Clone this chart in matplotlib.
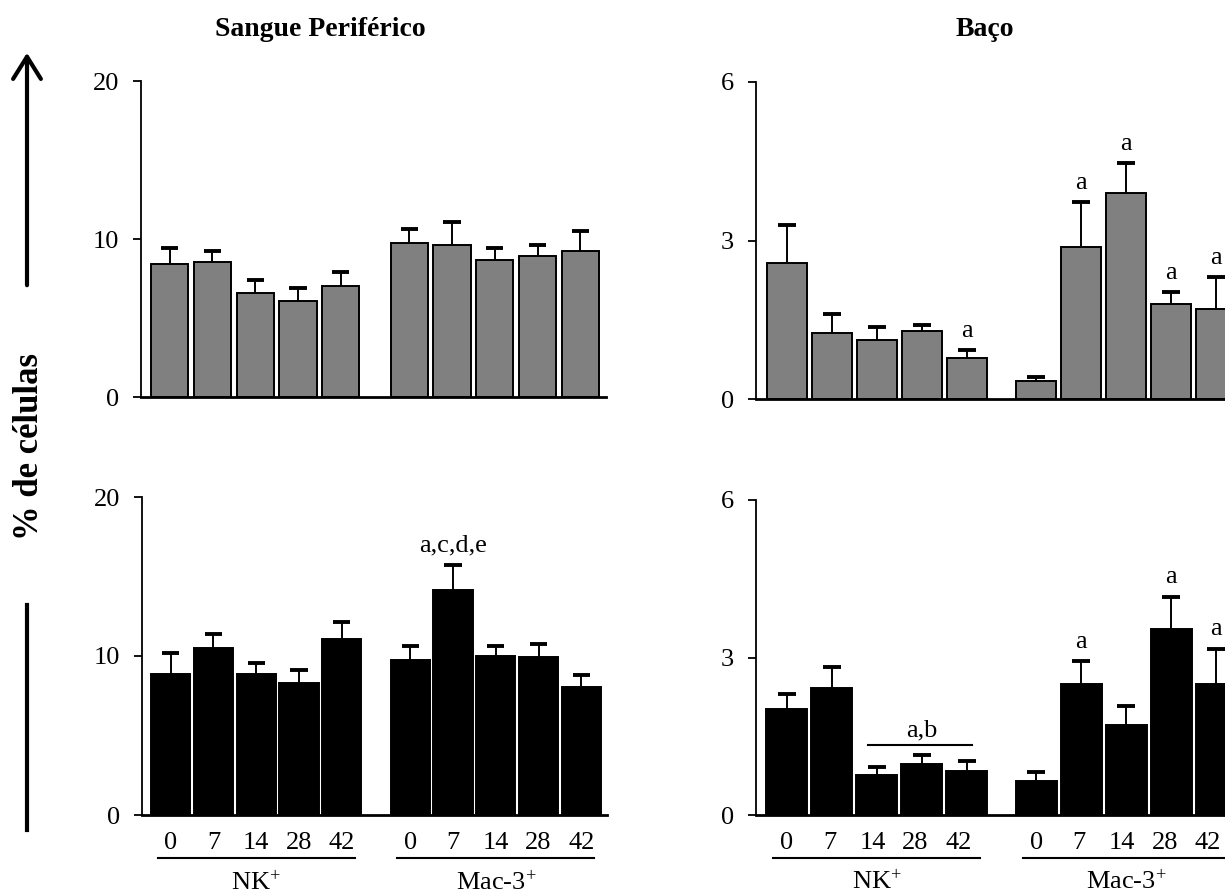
import numpy as np
import matplotlib.pyplot as plt
from matplotlib.patches import FancyArrowPatch
from matplotlib.transforms import ScaledTranslation

plt.rcParams['font.family'] = ['Liberation Serif', 'DejaVu Serif']
plt.rcParams['mathtext.default'] = 'regular'

days = ['0', '7', '14', '28', '42']
groups = ['NK$^{+}$', 'Mac-3$^{+}$']

# Sangue periférico, linha de cima (cinza)
sp_top_nk = [8.44, 8.54, 6.60, 6.08, 7.00]
sp_top_nk_err = [1.01, 0.70, 0.78, 0.82, 0.89]
sp_top_mac = [9.73, 9.60, 8.69, 8.94, 9.24]
sp_top_mac_err = [0.90, 1.48, 0.76, 0.66, 1.29]

# Baço, linha de cima (cinza)
bc_top_nk = [2.57, 1.24, 1.12, 1.28, 0.77]
bc_top_nk_err = [0.73, 0.36, 0.24, 0.13, 0.15]
bc_top_mac = [0.35, 2.88, 3.90, 1.79, 1.71]
bc_top_mac_err = [0.07, 0.85, 0.57, 0.23, 0.59]
bc_top_nk_sig = ['', '', '', '', 'a']
bc_top_mac_sig = ['', 'a', 'a', 'a', 'a']

# Sangue periférico, linha de baixo (preto)
sp_bot_nk = [8.84, 10.53, 8.84, 8.33, 11.04]
sp_bot_nk_err = [1.38, 0.84, 0.75, 0.82, 1.09]
sp_bot_mac = [9.74, 14.12, 10.03, 9.91, 8.06]
sp_bot_mac_err = [0.88, 1.63, 0.59, 0.85, 0.74]
sp_bot_mac_sig = ['', 'a,c,d,e', '', '', '']

# Baço, linha de baixo (preto)
bc_bot_nk = [2.01, 2.41, 0.76, 0.97, 0.83]
bc_bot_nk_err = [0.29, 0.41, 0.15, 0.17, 0.19]
bc_bot_mac = [0.64, 2.49, 1.71, 3.54, 2.49]
bc_bot_mac_err = [0.18, 0.44, 0.36, 0.62, 0.68]
bc_bot_mac_sig = ['', 'a', '', 'a', 'a']

W, H = 1225, 893
fig = plt.figure(figsize=(W / 100, H / 100), dpi=100)


def rect(left, right, top, bottom):
    return [left / W, 1 - bottom / H, (right - left) / W, (bottom - top) / H]


def panel(r, xlim, gap, nk, nk_err, mac, mac_err, color, width, ymax, yticks,
          nk_sig=None, mac_sig=None, bottom_labels=False):
    ax = fig.add_axes(r)
    x_nk = np.arange(5)
    x_mac = np.arange(5) + 4 + gap
    for x, v, e, sig in [(x_nk, nk, nk_err, nk_sig), (x_mac, mac, mac_err, mac_sig)]:
        v = np.array(v)
        e = np.array(e)
        ax.bar(x, v, width=width, color=color, edgecolor='black', linewidth=1.4, zorder=2)
        ax.vlines(x, v, v + e, color='black', lw=1.4, zorder=3)
        ax.hlines(v + e, x - 0.2, x + 0.2, color='black', lw=2.8, zorder=3)
        if sig:
            for xi, top, s in zip(x, v + e, sig):
                if s:
                    ax.annotate(s, (xi, top), xytext=(0, 6), textcoords='offset points',
                                ha='center', va='bottom', fontsize=19)
    ax.set_xlim(*xlim)
    ax.set_ylim(0, ymax)
    ax.set_yticks(yticks)
    ax.tick_params(axis='y', labelsize=19, length=6, width=1.3, pad=10)
    for s in ['top', 'right']:
        ax.spines[s].set_visible(False)
    ax.spines['left'].set_linewidth(1.3)
    ax.spines['bottom'].set_linewidth(2.0)
    ax.patch.set_alpha(0)
    if bottom_labels:
        ax.set_xticks(list(x_nk) + list(x_mac), days + days)
        ax.tick_params(axis='x', labelsize=19, length=0, pad=12)
        tr = ax.get_xaxis_transform()
        for x, g in [(x_nk, groups[0]), (x_mac, groups[1])]:
            ax.plot([x[0] - 0.3, x[-1] + 0.3], [-0.135, -0.135], color='black', lw=1.5,
                    transform=tr, clip_on=False)
            ax.text(x.mean(), -0.215, g, transform=tr, ha='center', va='center', fontsize=19)
    else:
        ax.set_xticks([])
    return ax, x_nk, x_mac


panel(rect(141, 606, 81, 397), (-0.67, 10.2), 1.6, sp_top_nk, sp_top_nk_err,
      sp_top_mac, sp_top_mac_err, '#808080', 0.87, 20, [0, 10, 20])
panel(rect(756, 1250, 82, 399), (-0.68, 10.3), 1.55, bc_top_nk, bc_top_nk_err,
      bc_top_mac, bc_top_mac_err, '#808080', 0.89, 6, [0, 3, 6],
      nk_sig=bc_top_nk_sig, mac_sig=bc_top_mac_sig)
panel(rect(142, 607, 497, 815), (-0.67, 10.2), 1.6, sp_bot_nk, sp_bot_nk_err,
      sp_bot_mac, sp_bot_mac_err, 'black', 0.92, 20, [0, 10, 20],
      mac_sig=sp_bot_mac_sig, bottom_labels=True)
ax4, x_nk, x_mac = panel(rect(756, 1250, 500, 815), (-0.68, 10.3), 1.55, bc_bot_nk, bc_bot_nk_err,
                         bc_bot_mac, bc_bot_mac_err, 'black', 0.92, 6, [0, 3, 6],
                         mac_sig=bc_bot_mac_sig, bottom_labels=True)

# no original os rótulos ficam um pouco à esquerda das barras
for i, lab in enumerate(ax4.get_xticklabels()):
    shift = -1.5 * (i % 5) / 72
    lab.set_transform(lab.get_transform() + ScaledTranslation(shift, 0, fig.dpi_scale_trans))

# barra "a,b" sobre NK 14-42
bar_y = max(np.array(bc_bot_nk[2:]) + np.array(bc_bot_nk_err[2:])) + 0.19
ax4.plot([x_nk[2] - 0.2, x_nk[4] + 0.12], [bar_y, bar_y], color='black', lw=1.5)
ax4.annotate('a,b', ((x_nk[2] + x_nk[4]) / 2, bar_y), xytext=(0, 3), textcoords='offset points',
             ha='center', va='bottom', fontsize=19)

fig.text(320 / W, 1 - 30 / H, 'Sangue Periférico', ha='center', va='center',
         fontsize=20, fontweight='bold')
fig.text(985 / W, 1 - 30 / H, 'Baço', ha='center', va='center',
         fontsize=20, fontweight='bold')

fig.text(30 / W, 1 - 447 / H, '% de células', rotation=90, ha='center', va='center',
         fontsize=25, fontweight='bold')
fig.add_artist(FancyArrowPatch((27 / W, 1 - 288 / H), (27 / W, 1 - 50 / H),
                               transform=fig.transFigure, arrowstyle='->,head_length=8,head_width=5',
                               lw=3, color='black', mutation_scale=2))
fig.add_artist(plt.Line2D([27 / W, 27 / W], [1 - 605 / H, 1 - 830 / H],
                          transform=fig.transFigure, lw=3, color='black'))

plt.savefig('out.png', dpi=100)
